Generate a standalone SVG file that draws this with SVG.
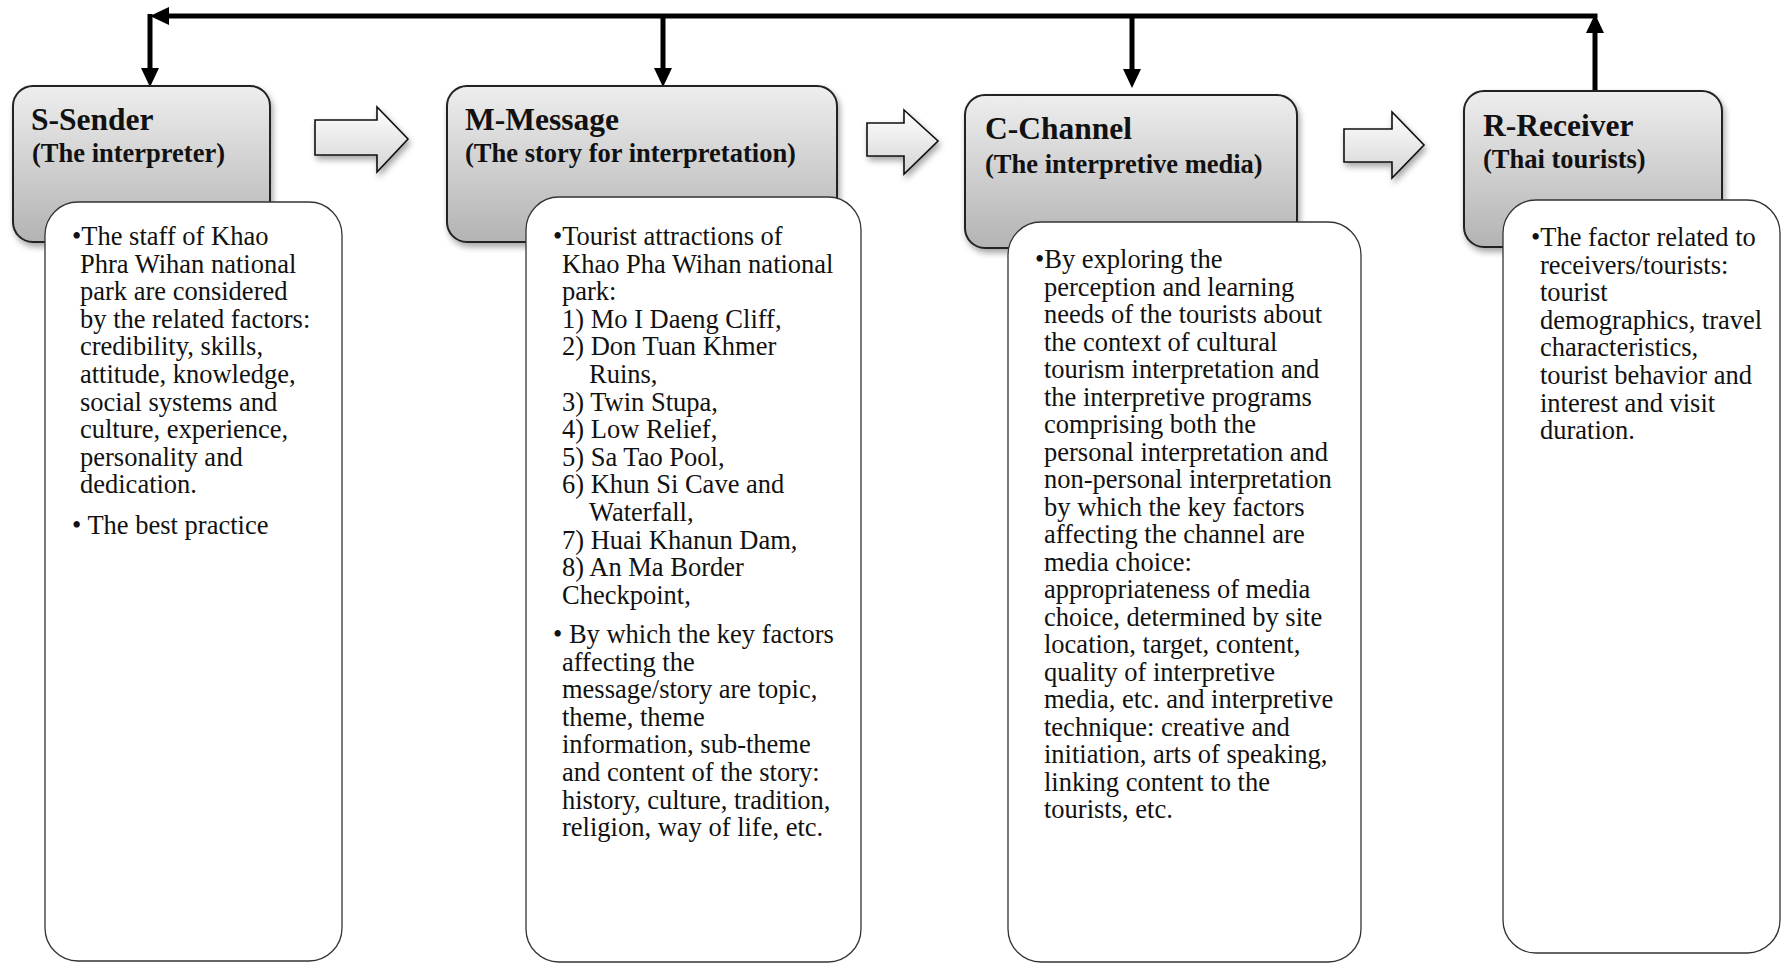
<svg xmlns="http://www.w3.org/2000/svg" width="1782" height="963" viewBox="0 0 1782 963">
  <defs>
    <linearGradient id="headFill" x1="0" y1="0" x2="0" y2="1">
      <stop offset="0" stop-color="#eeeeee"/>
      <stop offset="1" stop-color="#b3b3b3"/>
    </linearGradient>
    <linearGradient id="blockFill" x1="0" y1="0" x2="0" y2="1">
      <stop offset="0" stop-color="#ffffff"/>
      <stop offset="1" stop-color="#d4d4d4"/>
    </linearGradient>
    <filter id="shadow" x="-10%" y="-10%" width="130%" height="130%">
      <feDropShadow dx="2" dy="4" stdDeviation="3" flood-color="#000" flood-opacity="0.35"/>
    </filter>
    <marker id="head" viewBox="0 0 19 18" markerWidth="19" markerHeight="18" refX="2" refY="9" orient="auto" markerUnits="userSpaceOnUse">
      <path d="M0,0 L19,9 L0,18 z" fill="#000"/>
    </marker>
    <style>
      .hdr { fill: url(#headFill); stroke: #222; stroke-width: 2; filter: url(#shadow); }
      .blk { fill: url(#blockFill); stroke: #111; stroke-width: 1.6; filter: url(#shadow); }
      .body { fill: #fff; stroke: #333; stroke-width: 1.3; }
      .wire { fill: none; stroke: #000; stroke-width: 5; }
      .title { font-family: "Liberation Serif", "Times New Roman", serif; font-weight: bold; font-size: 31.5px; fill: #111; }
      .sub { font-family: "Liberation Serif", "Times New Roman", serif; font-weight: bold; font-size: 26.5px; fill: #111; }
      .txt { font-family: "Liberation Serif", "Times New Roman", serif; font-size: 26.5px; fill: #111; }
    </style>
  </defs>

  <!-- feedback loop and drop arrows -->
  <g id="connectors">
    <line class="wire" x1="1597.5" y1="16" x2="167" y2="16" marker-end="url(#head)"/>
    <line class="wire" x1="150" y1="14" x2="150" y2="70" marker-end="url(#head)"/>
    <line class="wire" x1="663" y1="14" x2="663" y2="70" marker-end="url(#head)"/>
    <line class="wire" x1="1132" y1="14" x2="1132" y2="71" marker-end="url(#head)"/>
    <line class="wire" x1="1595" y1="91" x2="1595" y2="31" marker-end="url(#head)"/>
    <polygon class="blk" points="315,120 377,120 377,107 408,139 377,172 377,155 315,155"/>
    <polygon class="blk" points="867,123 904,123 904,110 938,141 904,174 904,156 867,156"/>
    <polygon class="blk" points="1344,129 1392,129 1392,112 1424,145 1392,178 1392,162 1344,162"/>
  </g>

  <!-- S: sender -->
  <g id="sender">
    <rect class="hdr" x="13" y="86" width="257" height="156" rx="20"/>
    <text class="title" x="31" y="130">S-Sender</text>
    <text class="sub" x="32" y="162">(The interpreter)</text>
    <rect class="body" x="45" y="202" width="297" height="759" rx="33"/>
    <text class="txt">
      <tspan x="72" y="245">•The staff of Khao</tspan>
      <tspan x="80" y="272.6">Phra Wihan national</tspan>
      <tspan x="80" y="300.2">park are considered</tspan>
      <tspan x="80" y="327.8">by the related factors:</tspan>
      <tspan x="80" y="355.4">credibility, skills,</tspan>
      <tspan x="80" y="383">attitude, knowledge,</tspan>
      <tspan x="80" y="410.6">social systems and</tspan>
      <tspan x="80" y="438.2">culture, experience,</tspan>
      <tspan x="80" y="465.8">personality and</tspan>
      <tspan x="80" y="493.4">dedication.</tspan>
      <tspan x="72" y="534">• The best practice</tspan>
    </text>
  </g>

  <!-- M: message -->
  <g id="message">
    <rect class="hdr" x="447" y="86" width="390" height="156" rx="20"/>
    <text class="title" x="465" y="130">M-Message</text>
    <text class="sub" x="465" y="162">(The story for interpretation)</text>
    <rect class="body" x="526" y="197" width="335" height="765" rx="33"/>
    <text class="txt">
      <tspan x="553" y="245">•Tourist attractions of</tspan>
      <tspan x="562" y="272.6">Khao Pha Wihan national</tspan>
      <tspan x="562" y="300.2">park:</tspan>
      <tspan x="562" y="327.8">1) Mo I Daeng Cliff,</tspan>
      <tspan x="562" y="355.4">2) Don Tuan Khmer</tspan>
      <tspan x="589" y="383">Ruins,</tspan>
      <tspan x="562" y="410.6">3) Twin Stupa,</tspan>
      <tspan x="562" y="438.2">4) Low Relief,</tspan>
      <tspan x="562" y="465.8">5) Sa Tao Pool,</tspan>
      <tspan x="562" y="493.4">6) Khun Si Cave and</tspan>
      <tspan x="589" y="521">Waterfall,</tspan>
      <tspan x="562" y="548.6">7) Huai Khanun Dam,</tspan>
      <tspan x="562" y="576.2">8) An Ma Border</tspan>
      <tspan x="562" y="603.8">Checkpoint,</tspan>
      <tspan x="553" y="643">• By which the key factors</tspan>
      <tspan x="562" y="670.6">affecting the</tspan>
      <tspan x="562" y="698.2">message/story are topic,</tspan>
      <tspan x="562" y="725.8">theme, theme</tspan>
      <tspan x="562" y="753.4">information, sub-theme</tspan>
      <tspan x="562" y="781">and content of the story:</tspan>
      <tspan x="562" y="808.6">history, culture, tradition,</tspan>
      <tspan x="562" y="836.2">religion, way of life, etc.</tspan>
    </text>
  </g>

  <!-- C: channel -->
  <g id="channel">
    <rect class="hdr" x="965" y="95" width="332" height="153" rx="20"/>
    <text class="title" x="985" y="139">C-Channel</text>
    <text class="sub" x="985" y="173">(The interpretive media)</text>
    <rect class="body" x="1008" y="222" width="353" height="740" rx="33"/>
    <text class="txt">
      <tspan x="1035" y="268">•By exploring the</tspan>
      <tspan x="1044" y="295.5">perception and learning</tspan>
      <tspan x="1044" y="323">needs of the tourists about</tspan>
      <tspan x="1044" y="350.5">the context of cultural</tspan>
      <tspan x="1044" y="378">tourism interpretation and</tspan>
      <tspan x="1044" y="405.5">the interpretive programs</tspan>
      <tspan x="1044" y="433">comprising both the</tspan>
      <tspan x="1044" y="460.5">personal interpretation and</tspan>
      <tspan x="1044" y="488">non-personal interpretation</tspan>
      <tspan x="1044" y="515.5">by which the key factors</tspan>
      <tspan x="1044" y="543">affecting the channel are</tspan>
      <tspan x="1044" y="570.5">media choice:</tspan>
      <tspan x="1044" y="598">appropriateness of media</tspan>
      <tspan x="1044" y="625.5">choice, determined by site</tspan>
      <tspan x="1044" y="653">location, target, content,</tspan>
      <tspan x="1044" y="680.5">quality of interpretive</tspan>
      <tspan x="1044" y="708">media, etc. and interpretive</tspan>
      <tspan x="1044" y="735.5">technique: creative and</tspan>
      <tspan x="1044" y="763">initiation, arts of speaking,</tspan>
      <tspan x="1044" y="790.5">linking content to the</tspan>
      <tspan x="1044" y="818">tourists, etc.</tspan>
    </text>
  </g>

  <!-- R: receiver -->
  <g id="receiver">
    <rect class="hdr" x="1464" y="91" width="258" height="156" rx="20"/>
    <text class="title" x="1483" y="136">R-Receiver</text>
    <text class="sub" x="1483" y="168">(Thai tourists)</text>
    <rect class="body" x="1503" y="200" width="277" height="753" rx="33"/>
    <text class="txt">
      <tspan x="1531" y="246">•The factor related to</tspan>
      <tspan x="1540" y="273.6">receivers/tourists:</tspan>
      <tspan x="1540" y="301.2">tourist</tspan>
      <tspan x="1540" y="328.8">demographics, travel</tspan>
      <tspan x="1540" y="356.4">characteristics,</tspan>
      <tspan x="1540" y="384">tourist behavior and</tspan>
      <tspan x="1540" y="411.6">interest and visit</tspan>
      <tspan x="1540" y="439.2">duration.</tspan>
    </text>
  </g>
</svg>
